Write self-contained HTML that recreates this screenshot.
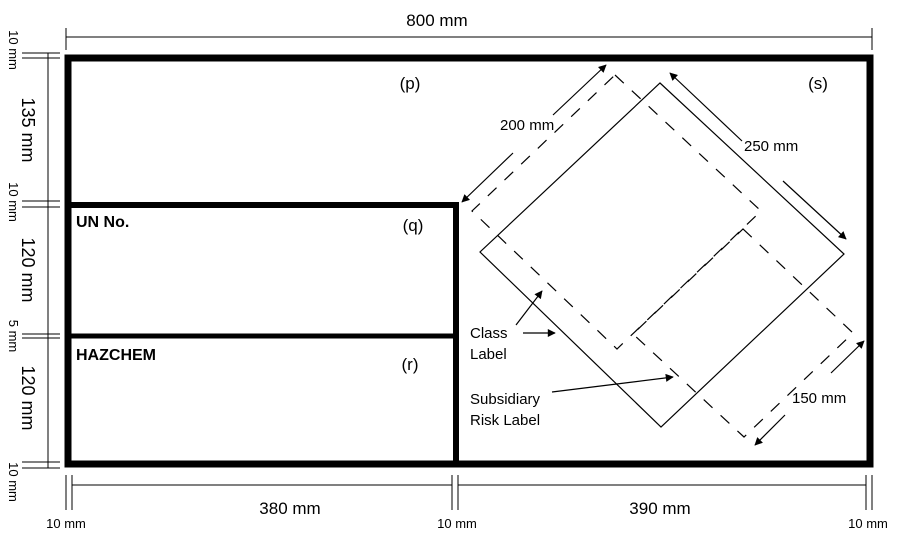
<!DOCTYPE html>
<html><head><meta charset="utf-8"><style>
html,body{margin:0;padding:0;background:#fff;}
svg{display:block;}
text{font-family:"Liberation Sans",Arial,sans-serif;fill:#000;}
</style></head><body>
<svg width="900" height="543" viewBox="0 0 900 543" xmlns="http://www.w3.org/2000/svg">
<defs>
<marker id="a" viewBox="0 0 10 10" refX="9" refY="5" markerWidth="11" markerHeight="8" orient="auto" markerUnits="userSpaceOnUse"><path d="M0,0 L10,5 L0,10 z" fill="#000"/></marker>
</defs>
<text x="437" y="26" font-size="17" text-anchor="middle">800 mm</text>
<line x1="66" y1="37" x2="872" y2="37" stroke="#000" stroke-width="1"/>
<line x1="66" y1="28" x2="66" y2="50" stroke="#000" stroke-width="1"/>
<line x1="872" y1="28" x2="872" y2="50" stroke="#000" stroke-width="1"/>
<g stroke="#000" stroke-width="1">
<line x1="48" y1="53" x2="48" y2="468"/>
<line x1="22" y1="53" x2="60" y2="53"/><line x1="22" y1="58" x2="60" y2="58"/>
<line x1="22" y1="201" x2="60" y2="201"/><line x1="22" y1="207" x2="60" y2="207"/>
<line x1="22" y1="334" x2="60" y2="334"/><line x1="22" y1="338" x2="60" y2="338"/>
<line x1="22" y1="462" x2="60" y2="462"/><line x1="22" y1="468" x2="60" y2="468"/>
</g>
<text transform="translate(9,50) rotate(90)" font-size="13" text-anchor="middle">10 mm</text>
<text transform="translate(22,130) rotate(90)" font-size="18" text-anchor="middle">135 mm</text>
<text transform="translate(9,202) rotate(90)" font-size="13" text-anchor="middle">10 mm</text>
<text transform="translate(22,270) rotate(90)" font-size="18" text-anchor="middle">120 mm</text>
<text transform="translate(9,336) rotate(90)" font-size="13" text-anchor="middle">5 mm</text>
<text transform="translate(22,398) rotate(90)" font-size="18" text-anchor="middle">120 mm</text>
<text transform="translate(9,482) rotate(90)" font-size="13" text-anchor="middle">10 mm</text>
<g stroke="#000" stroke-width="1">
<line x1="66" y1="475" x2="66" y2="510"/><line x1="72" y1="475" x2="72" y2="510"/>
<line x1="452" y1="475" x2="452" y2="510"/><line x1="458" y1="475" x2="458" y2="510"/>
<line x1="866" y1="475" x2="866" y2="510"/><line x1="872" y1="475" x2="872" y2="510"/>
<line x1="72" y1="485" x2="452" y2="485"/><line x1="458" y1="485" x2="866" y2="485"/>
</g>
<text x="290" y="514" font-size="17" text-anchor="middle">380 mm</text>
<text x="660" y="514" font-size="17" text-anchor="middle">390 mm</text>
<text x="66" y="528" font-size="13" text-anchor="middle">10 mm</text>
<text x="457" y="528" font-size="13" text-anchor="middle">10 mm</text>
<text x="868" y="528" font-size="13" text-anchor="middle">10 mm</text>
<rect x="68" y="58" width="802" height="406" fill="none" stroke="#000" stroke-width="7"/>
<polyline points="68,205 456,205 456,464" fill="none" stroke="#000" stroke-width="6"/>
<line x1="68" y1="336" x2="456" y2="336" stroke="#000" stroke-width="5"/>
<text x="410" y="89" font-size="17" text-anchor="middle">(p)</text>
<text x="818" y="89" font-size="17" text-anchor="middle">(s)</text>
<text x="413" y="231" font-size="17" text-anchor="middle">(q)</text>
<text x="410" y="370" font-size="17" text-anchor="middle">(r)</text>
<text x="76" y="227" font-size="16" font-weight="bold">UN No.</text>
<text x="76" y="360" font-size="16" font-weight="bold">HAZCHEM</text>
<polygon points="660,83 844,254 661,427 480,252" fill="none" stroke="#000" stroke-width="1.2"/>
<polygon points="615,75 761,211 617,349 472,211" fill="none" stroke="#000" stroke-width="1.2" stroke-dasharray="12,11"/>
<polygon points="743,229 853,333 744,437 633,334" fill="none" stroke="#000" stroke-width="1.2" stroke-dasharray="12,11"/>
<g stroke="#000" stroke-width="1.2" fill="none">
<line x1="513" y1="153" x2="462" y2="202" marker-end="url(#a)"/>
<line x1="553" y1="115" x2="606" y2="65" marker-end="url(#a)"/>
<line x1="742" y1="141" x2="670" y2="73" marker-end="url(#a)"/>
<line x1="783" y1="181" x2="846" y2="239" marker-end="url(#a)"/>
<line x1="831" y1="373" x2="864" y2="341" marker-end="url(#a)"/>
<line x1="785" y1="415" x2="755" y2="445" marker-end="url(#a)"/>
<line x1="516" y1="325" x2="542" y2="291" marker-end="url(#a)"/>
<line x1="523" y1="333" x2="555" y2="333" marker-end="url(#a)"/>
<line x1="552" y1="392" x2="673" y2="377" marker-end="url(#a)"/>
</g>
<text x="500" y="130" font-size="15">200 mm</text>
<text x="744" y="151" font-size="15">250 mm</text>
<text x="792" y="403" font-size="15">150 mm</text>
<text x="470" y="338" font-size="15">Class</text>
<text x="470" y="359" font-size="15">Label</text>
<text x="470" y="404" font-size="15">Subsidiary</text>
<text x="470" y="425" font-size="15">Risk Label</text>
</svg>
</body></html>
